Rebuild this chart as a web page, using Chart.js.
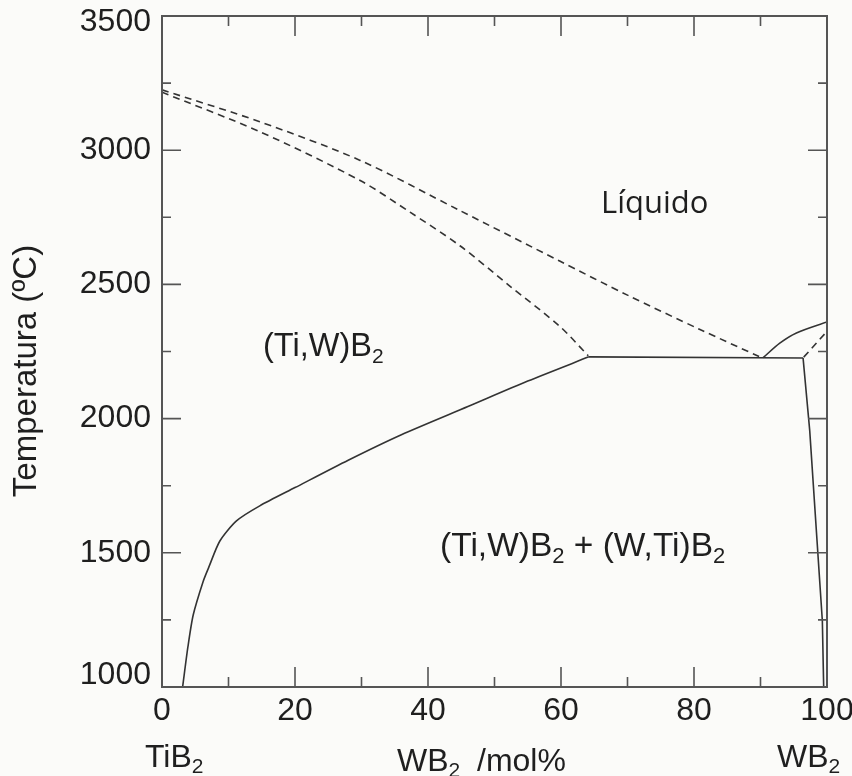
<!DOCTYPE html>
<html>
<head>
<meta charset="utf-8">
<script src="https://cdn.jsdelivr.net/npm/chart.js@4.4.1/dist/chart.umd.min.js"></script>
<style>
  html, body { margin: 0; padding: 0; background: #fbfbf9; }
  #wrap { width: 852px; height: 776px; }
</style>
</head>
<body>
<div id="wrap"><canvas id="phaseChart" width="852" height="776"></canvas></div>
<script>
// axis ticks
const xTicks = [0, 20, 40, 60, 80, 100];
const yTicks = [1000, 1500, 2000, 2500, 3000, 3500];

// liquidus (upper dashed)
const liquidusX = [0, 14.7, 29.8, 44.8, 59.8, 70, 80.9, 89.9];
const liquidusT = [3225, 3106, 2962, 2775, 2587, 2460, 2332, 2230];

// solidus (lower dashed)
const solidusX = [0, 14.7, 29.8, 37.3, 44.8, 52.3, 59.8, 64.1];
const solidusT = [3216, 3069, 2887, 2769, 2644, 2494, 2344, 2234];

// TiB2-rich solvus (solid)
const solvusLeftX = [3.1, 3.9, 4.7, 6.2, 7.0, 8.7, 11.2, 14.7, 20, 28, 36, 46, 55, 64.2];
const solvusLeftT = [1000, 1150, 1269, 1394, 1444, 1544, 1619, 1675, 1743, 1845, 1940, 2045, 2140, 2230];

// peritectic line
const peritecticX = [64.2, 96.4];
const peritecticT = [2230, 2226];

// WB2-rich solvus
const solvusRightX = [96.4, 97.4, 99.3, 99.5];
const solvusRightT = [2226, 1956, 1247, 1000];

// WB2 side liquidus (solid) and solidus (dashed)
const liqRightX = [90.4, 92.9, 95.4, 100];
const liqRightT = [2227, 2281, 2319, 2360];
const solRightX = [96.5, 100];
const solRightT = [2229, 2325];

const ink = '#333333';
const textInk = '#1f1f1f';
const axisColor = '#555555';
const bg = '#fbfbf9';
const arial = '"Liberation Sans", Arial, sans-serif';

function pts(xs, ys) {
    return xs.map((x, i) => ({ x: x, y: ys[i] }));
}

function lineSet(xs, ys, dashed, tension) {
    return {
        data: pts(xs, ys),
        showLine: true,
        borderColor: ink,
        borderWidth: 1.6,
        borderDash: dashed ? [7, 5] : [],
        pointRadius: 0,
        fill: false,
        tension: tension
    };
}

// draw text with subscript pieces: parts = [[text, isSub], ...]
function drawRich(ctx, parts, x, y, size) {
    let cx = x;
    parts.forEach(p => {
        const sub = p[1];
        ctx.font = (sub ? Math.round(size * 0.65) : size) + 'px ' + arial;
        ctx.fillText(p[0], cx, sub ? y + size * 0.2 : y);
        cx += ctx.measureText(p[0]).width;
    });
    return cx;
}

const framePlugin = {
    id: 'frame',
    beforeDraw(chart) {
        const ctx = chart.ctx;
        ctx.save();
        ctx.fillStyle = bg;
        ctx.fillRect(0, 0, chart.width, chart.height);
        ctx.restore();
    },
    afterDraw(chart) {
        const ctx = chart.ctx;
        const a = chart.chartArea;
        const xs = chart.scales.x;
        const ys = chart.scales.y;
        ctx.save();
        ctx.strokeStyle = axisColor;
        ctx.lineWidth = 2;
        ctx.strokeRect(a.left, a.top, a.right - a.left, a.bottom - a.top);

        // inward ticks on all four sides
        ctx.lineWidth = 1.6;
        ctx.beginPath();
        for (let v = 0; v <= 100; v += 10) {
            const px = xs.getPixelForValue(v);
            const len = v % 20 === 0 ? 20 : 10;
            ctx.moveTo(px, a.bottom); ctx.lineTo(px, a.bottom - len);
            ctx.moveTo(px, a.top); ctx.lineTo(px, a.top + len);
        }
        for (let v = 1000; v <= 3500; v += 250) {
            const py = ys.getPixelForValue(v);
            const len = v % 500 === 0 ? 19 : 9;
            ctx.moveTo(a.left, py); ctx.lineTo(a.left + len, py);
            ctx.moveTo(a.right, py); ctx.lineTo(a.right - len, py);
        }
        ctx.stroke();

        // tick labels
        ctx.fillStyle = textInk;
        ctx.font = '32px ' + arial;
        ctx.textAlign = 'right';
        ctx.textBaseline = 'middle';
        yTicks.forEach(v => {
            let py = ys.getPixelForValue(v);
            py = Math.min(Math.max(py, 22), 675);
            ctx.fillText(String(v), a.left - 11, py);
        });
        ctx.textAlign = 'center';
        ctx.textBaseline = 'alphabetic';
        xTicks.forEach(v => {
            ctx.fillText(String(v), xs.getPixelForValue(v), 720);
        });

        // axis title
        ctx.save();
        ctx.font = '33px ' + arial;
        ctx.translate(27, 371);
        ctx.rotate(-Math.PI / 2);
        ctx.textBaseline = 'middle';
        ctx.fillText('Temperatura (ºC)', 0, 0);
        ctx.restore();

        // region and composition labels
        ctx.textAlign = 'left';
        ctx.textBaseline = 'alphabetic';
        drawRich(ctx, [['TiB', false], ['2', true]], 145, 767, 32);
        drawRich(ctx, [['WB', false], ['2', true]], 397, 771, 32);
        drawRich(ctx, [['/mol%', false]], 477, 771, 32);
        drawRich(ctx, [['WB', false], ['2', true]], 777, 767, 32);
        drawRich(ctx, [['(Ti,W)B', false], ['2', true]], 263, 356, 32.5);
        drawRich(ctx, [['(Ti,W)B', false], ['2', true], [' + ', false], ['(W,Ti)B', false], ['2', true]], 440, 556, 33.5);
        ctx.font = '31px "Open Sans", sans-serif';
        ctx.fillText('Líquido', 601, 213);
        ctx.restore();
    }
};

const chart = new Chart(document.getElementById('phaseChart').getContext('2d'), {
    type: 'scatter',
    data: {
        datasets: [
            lineSet(liquidusX, liquidusT, true, 0.3),
            lineSet(solidusX, solidusT, true, 0.3),
            lineSet(solvusLeftX, solvusLeftT, false, 0.25),
            lineSet(peritecticX, peritecticT, false, 0),
            lineSet(solvusRightX, solvusRightT, false, 0),
            lineSet(liqRightX, liqRightT, false, 0.3),
            lineSet(solRightX, solRightT, true, 0)
        ]
    },
    options: {
        responsive: false,
        animation: false,
        events: [],
        layout: { padding: { left: 162, right: 25, top: 16, bottom: 89 } },
        plugins: {
            legend: { display: false },
            tooltip: { enabled: false }
        },
        scales: {
            x: { type: 'linear', min: 0, max: 100, display: false },
            y: { type: 'linear', min: 1000, max: 3500, display: false }
        }
    },
    plugins: [framePlugin]
});
</script>
</body>
</html>
